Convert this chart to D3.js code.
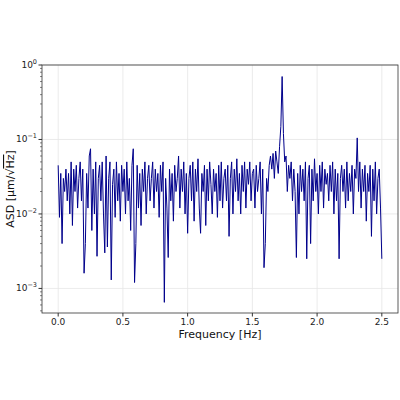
<!DOCTYPE html>
<html><head><meta charset="utf-8">
<script src="https://cdn.jsdelivr.net/npm/d3@7"></script>
<style>body{margin:0;background:#fff}text{font-family:"DejaVu Sans",sans-serif}</style>
</head><body><svg id="c" width="400" height="400"></svg>
<script>
const step = 0.01;
const asd = [
0.045,0.009,0.035,0.004,0.03,0.02,0.04,0.015,0.035,0.01,
0.05,0.007,0.04,0.02,0.045,0.012,0.03,0.05,0.015,0.04,
0.0016,0.004,0.035,0.012,0.06,0.075,0.006,0.04,0.01,0.05,
0.0027,0.03,0.045,0.015,0.05,0.01,0.003,0.06,0.0036,0.03,
0.05,0.0013,0.025,0.04,0.009,0.05,0.015,0.035,0.008,0.045,
0.02,0.04,0.01,0.05,0.015,0.03,0.006,0.045,0.075,0.0012,
0.004,0.045,0.012,0.035,0.007,0.04,0.02,0.05,0.01,0.03,
0.045,0.015,0.03,0.05,0.012,0.04,0.02,0.035,0.009,0.045,
0.02,0.05,0.00065,0.03,0.012,0.0026,0.04,0.015,0.035,0.008,
0.045,0.02,0.03,0.06,0.012,0.04,0.02,0.05,0.01,0.035,
0.0055,0.03,0.045,0.015,0.05,0.008,0.04,0.02,0.055,0.012,
0.0055,0.035,0.02,0.045,0.007,0.04,0.015,0.05,0.025,0.01,
0.04,0.02,0.035,0.009,0.045,0.015,0.05,0.012,0.03,0.04,
0.015,0.045,0.005,0.03,0.05,0.01,0.04,0.02,0.055,0.015,
0.035,0.01,0.045,0.02,0.05,0.012,0.04,0.025,0.05,0.015,
0.035,0.04,0.012,0.045,0.02,0.03,0.05,0.01,0.04,0.0019,
0.004,0.03,0.02,0.045,0.06,0.04,0.065,0.03,0.07,0.05,
0.035,0.08,0.15,0.7,0.12,0.05,0.06,0.02,0.045,0.03,
0.05,0.015,0.04,0.02,0.0026,0.035,0.01,0.045,0.02,0.04,
0.015,0.05,0.0025,0.03,0.045,0.004,0.04,0.015,0.055,0.02,
0.035,0.01,0.045,0.02,0.05,0.012,0.04,0.025,0.035,0.015,
0.045,0.02,0.05,0.01,0.04,0.015,0.035,0.0025,0.03,0.045,
0.02,0.04,0.012,0.05,0.015,0.035,0.02,0.045,0.01,0.04,
0.03,0.105,0.02,0.05,0.012,0.04,0.02,0.045,0.008,0.035,
0.02,0.045,0.005,0.04,0.015,0.05,0.01,0.03,0.04,0.012,
0.0025];
const freq = asd.map((d,i)=>+(i*step).toFixed(2));
const xTicks = [0,0.5,1.0,1.5,2.0,2.5];
const yTicks = [-3,-2,-1,0];

const L=42,R=398,T=65,B=313;
const svg=d3.select("#c");
const x=d3.scaleLinear().domain([-0.125,2.625]).range([L,R]);
const y=d3.scaleLog().domain([Math.pow(10,-3.33),1.0]).range([B,T]);
const g=svg.append("g");
g.selectAll(".gx").data(xTicks).join("line").attr("x1",d=>x(d)).attr("x2",d=>x(d)).attr("y1",T).attr("y2",B).attr("stroke","#e6e6e6").attr("stroke-width",0.8);
g.selectAll(".gy").data(yTicks).join("line").attr("y1",d=>y(Math.pow(10,d))).attr("y2",d=>y(Math.pow(10,d))).attr("x1",L).attr("x2",R).attr("stroke","#e6e6e6").attr("stroke-width",0.8);
svg.append("path").datum(freq.map((f,i)=>[f,asd[i]])).attr("fill","none").attr("stroke","#00008b").attr("stroke-width",1)
 .attr("d",d3.line().x(d=>x(d[0])).y(d=>y(d[1])));
svg.append("rect").attr("x",L).attr("y",T).attr("width",R-L).attr("height",B-T).attr("fill","none").attr("stroke","#333").attr("stroke-width",0.8);
const xa=svg.append("g");
xTicks.forEach(t=>{
 xa.append("line").attr("x1",x(t)).attr("x2",x(t)).attr("y1",B).attr("y2",B+3.5).attr("stroke","#333");
 xa.append("text").attr("x",x(t)).attr("y",B+12).attr("text-anchor","middle").attr("font-size",9).attr("fill","#222").text(t.toFixed(1));
});
svg.append("text").attr("x",(L+R)/2).attr("y",338).attr("text-anchor","middle").attr("font-size",11).attr("fill","#111").text("Frequency [Hz]");
const ya=svg.append("g");
yTicks.forEach(e=>{
 const yy=y(Math.pow(10,e));
 ya.append("line").attr("x1",L-3.5).attr("x2",L).attr("y1",yy).attr("y2",yy).attr("stroke","#333");
 const t=ya.append("text").attr("x",L-5).attr("y",yy+3).attr("text-anchor","end").attr("font-size",9).attr("fill","#222");
 t.append("tspan").text("10");
 t.append("tspan").attr("dy",-4).attr("font-size",6.5).text(e<0?"\u2212"+(-e):""+e);
});
for(let e=-4;e<0;e++){for(let m=2;m<10;m++){const v=m*Math.pow(10,e);if(v<y.domain()[0]||v>1)continue;
 ya.append("line").attr("x1",L-2).attr("x2",L).attr("y1",y(v)).attr("y2",y(v)).attr("stroke","#333").attr("stroke-width",0.6);}}
const yl=svg.append("text").attr("transform",`translate(14,${(T+B)/2}) rotate(-90)`).attr("text-anchor","middle").attr("font-size",11).attr("fill","#111");
yl.append("tspan").text("ASD [μm/√");
yl.append("tspan").style("text-decoration","overline").text("Hz");
yl.append("tspan").text("]");
</script></body></html>
